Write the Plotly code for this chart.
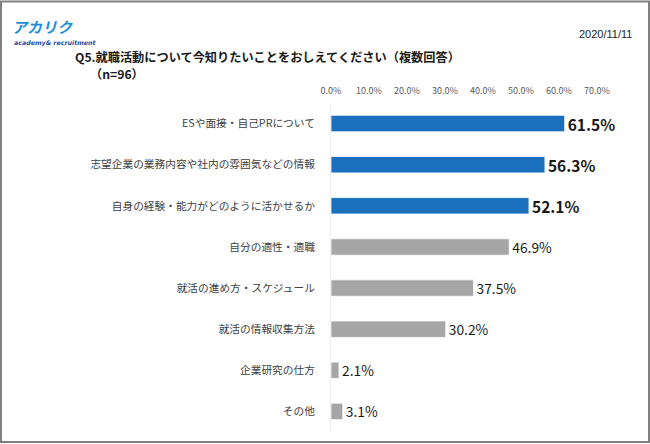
import plotly.graph_objects as go

categories = [
    "ESや面接・自己PRについて",
    "志望企業の業務内容や社内の雰囲気などの情報",
    "自身の経験・能力がどのように活かせるか",
    "自分の適性・適職",
    "就活の進め方・スケジュール",
    "就活の情報収集方法",
    "企業研究の仕方",
    "その他",
]
values = [61.5, 56.3, 52.1, 46.9, 37.5, 30.2, 2.1, 3.1]
highlight = [True, True, True, False, False, False, False, False]
tick_vals = [0, 10, 20, 30, 40, 50, 60, 70]
tick_text = ["0.0%", "10.0%", "20.0%", "30.0%", "40.0%", "50.0%", "60.0%", "70.0%"]

BLUE = "#1b70be"
GRAY = "#a6a6a6"
JP = "Noto Sans CJK JP"

L, R, T, B = 331, 53, 103, 12
PW, PH = 650 - L - R, 444 - T - B

def px(x):
    return (x - L) / PW

def py(y):
    return 1 - (y - T) / PH

colors = [BLUE if h else GRAY for h in highlight]
texts = [(f"<b>{v:.1f}%</b>" if h else f"{v:.1f}%") for v, h in zip(values, highlight)]
tsizes = [15.5 if h else 13.8 for h in highlight]

fig = go.Figure(go.Bar(
    x=values, y=categories, orientation="h",
    marker=dict(color=colors, line=dict(color="#ffffff", width=0.8)),
    text=texts, textposition="outside", cliponaxis=False, constraintext="none",
    textfont=dict(family=JP, size=tsizes, color="#1a1a1a"),
    hoverinfo="skip",
))

fig.update_layout(
    width=650, height=444,
    margin=dict(l=L, r=R, t=T, b=B),
    paper_bgcolor="white", plot_bgcolor="white",
    bargap=0.6, showlegend=False,
    font=dict(family=JP),
    xaxis=dict(range=[0, 70], side="top", tickvals=tick_vals, ticktext=tick_text,
               tickfont=dict(family=JP, size=9, color="#595959"),
               showgrid=False, zeroline=False, showline=False, ticks="",
               ticklabelstandoff=6, automargin=False, fixedrange=True),
    yaxis=dict(autorange="reversed", tickfont=dict(family=JP, size=10.7, color="#404040"),
               showgrid=False, zeroline=False, showline=True, linecolor="#eeeeee",
               linewidth=1, ticks="", ticklabelstandoff=13, automargin=False,
               fixedrange=True),
    shapes=[dict(type="rect", xref="paper", yref="paper", x0=px(1), x1=px(649),
                 y0=py(442), y1=py(1.5), line=dict(color="#808080", width=2))],
    annotations=[
        dict(text="<b><i>アカリク</i></b>", xref="paper", yref="paper",
             x=px(11), y=py(38), xanchor="left", yanchor="bottom", borderpad=0,
             showarrow=False, font=dict(family=JP, size=15, color="#1e8fd5")),
        dict(text="<b><i>academy&amp; recruitment</i></b>", xref="paper", yref="paper",
             x=px(13), y=py(38.5), xanchor="left", yanchor="top", borderpad=0,
             showarrow=False, font=dict(family="DejaVu Sans", size=6.3, color="#1c4fa0")),
        dict(text="2020/11/11", xref="paper", yref="paper",
             x=px(634), y=py(34), xanchor="right", yanchor="middle",
             showarrow=False, font=dict(family="Liberation Sans", size=11, color="#222222")),
        dict(text="<b>Q5.就職活動について今知りたいことをおしえてください（複数回答）</b>",
             xref="paper", yref="paper", x=px(73), y=py(57),
             xanchor="left", yanchor="middle", showarrow=False,
             font=dict(family=JP, size=12.2, color="#1a1a1a")),
        dict(text="<b>（n=96）</b>", xref="paper", yref="paper",
             x=px(88), y=py(74), xanchor="left", yanchor="middle",
             showarrow=False, font=dict(family=JP, size=12.2, color="#1a1a1a")),
    ],
)

fig.write_html("out.html", config={"displayModeBar": False},
               post_script="document.body.style.margin='0';")
